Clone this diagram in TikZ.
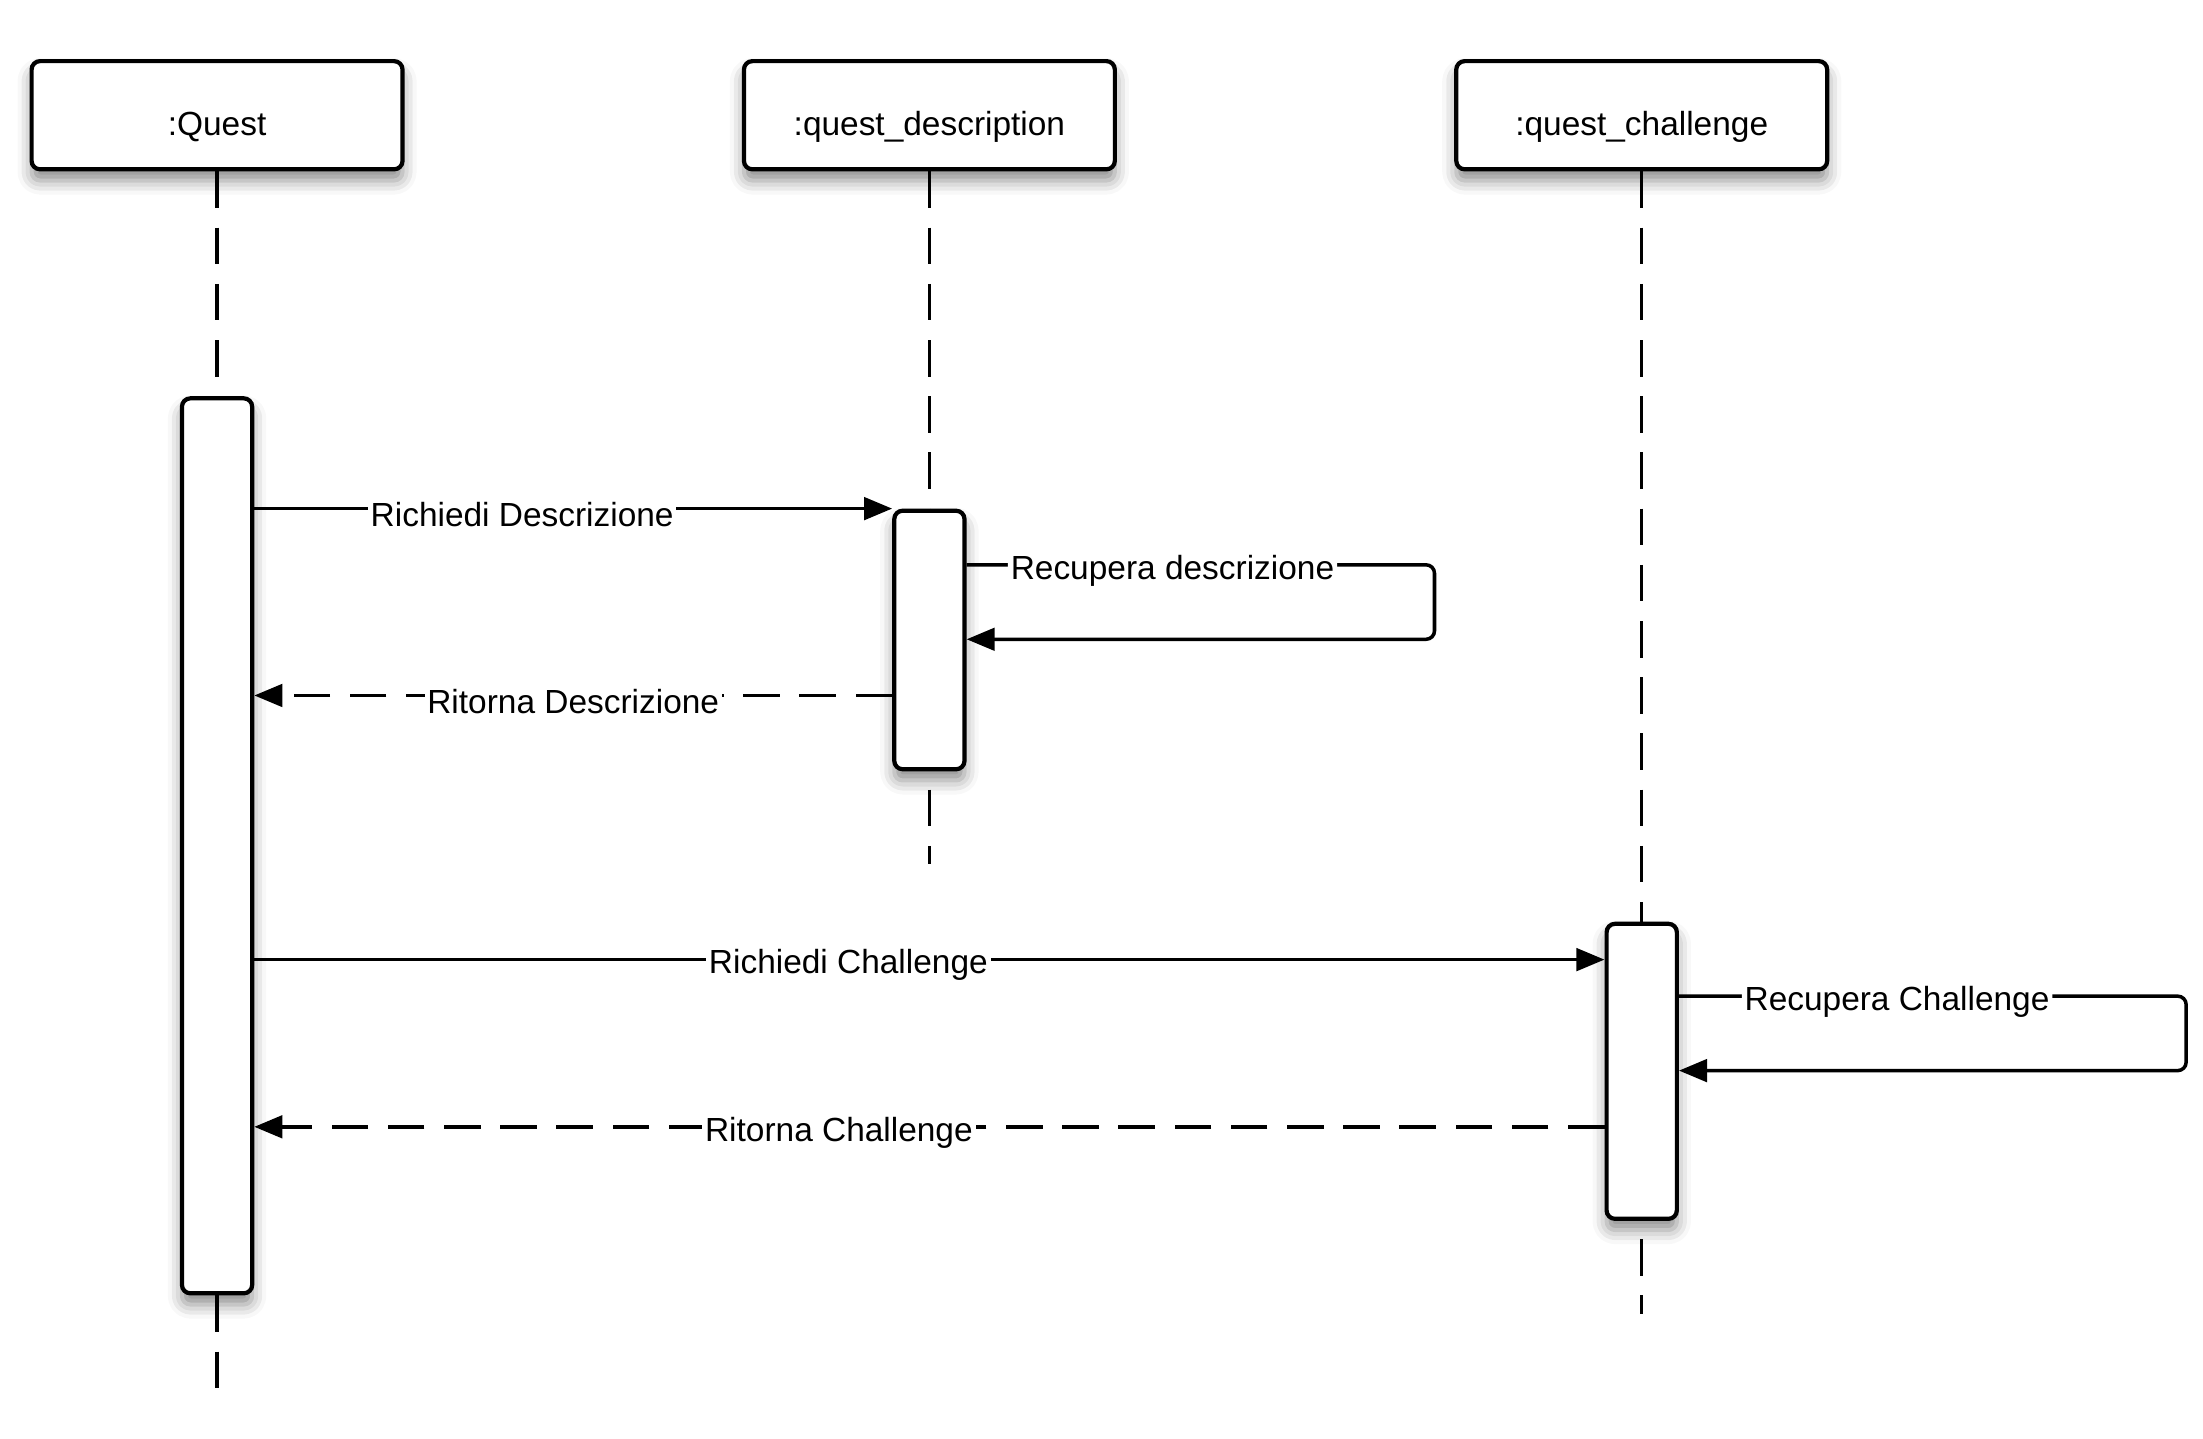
\documentclass[tikz,border=0pt]{standalone}
\usepackage{fontspec}
\setmainfont{Liberation Sans}
\usetikzlibrary{arrows.meta, shadows.blur}

\tikzset{
  head/.style={rectangle, draw, line width=1.5pt, rounded corners=3pt, fill=white,
    minimum width=132pt, minimum height=38.5pt, text height=16pt, text depth=1.6pt,
    blur shadow={shadow xshift=0pt, shadow yshift=-4pt, shadow blur radius=5pt, shadow opacity=45}},
  act/.style={rectangle, draw, line width=1.5pt, rounded corners=3pt, fill=white,
    minimum width=25pt, inner sep=0pt,
    blur shadow={shadow xshift=0pt, shadow yshift=-4pt, shadow blur radius=5pt, shadow opacity=45}},
  lifeline/.style={line width=1.25pt, dash pattern=on 13pt off 7pt},
  msg/.style={line width=1.25pt, -{Triangle[length=10pt, width=8pt]}},
  ret/.style={msg, dash pattern=on 13pt off 7pt},
  lbl/.style={fill=white, inner xsep=1pt, inner ysep=1pt, anchor=center, yshift=-2pt}
}

\begin{document}
\begin{tikzpicture}[x=0.5pt, y=-0.5pt, font=\fontsize{11.9}{14}\selectfont]
\useasboundingbox (0, 0) rectangle (1568, 1024);

\path (154.5, 82) node[head] (quest) {:Quest}
      (661.5, 82) node[head] (desc) {:quest\_description}
      (1168.5, 82) node[head] (chal) {:quest\_challenge};

\coordinate (questend) at (154.5, 990);
\coordinate (descend) at (661.5, 615);
\coordinate (chalend) at (1168.5, 935);

\draw[lifeline] (quest.south) -- (questend);
\draw[lifeline] (desc.south) -- (descend);
\draw[lifeline] (chal.south) -- (chalend);

\path (154.5, 602) node[act, minimum height=318.5pt] (questact) {}
      (661.5, 455.5) node[act, minimum height=92pt] (descact) {}
      (1168.5, 762.5) node[act, minimum height=105pt] (chalact) {};

% descrizione
\draw[msg] (questact.east |- descact.north) to node[lbl, pos=0.42] {Richiedi Descrizione} (descact.north west);
\draw[msg, rounded corners=3pt] (descact.east |- 0, 402) -- node[lbl, pos=0.44] {Recupera descrizione} ++(333, 0) |- (descact.east |- 0, 455);
\draw[ret] (descact.west |- 0, 495) to node[lbl, pos=0.5] {Ritorna Descrizione} (questact.east |- 0, 495);

% challenge
\draw[msg] (questact.east |- 0, 683) to node[lbl, pos=0.44] {Richiedi Challenge} (chalact.west |- 0, 683);
\draw[msg, rounded corners=3pt] (chalact.east |- 0, 709) -- node[lbl, pos=0.43] {Recupera Challenge} ++(361, 0) |- (chalact.east |- 0, 762);
\draw[ret] (chalact.west |- 0, 802) to node[lbl, pos=0.567] {Ritorna Challenge} (questact.east |- 0, 802);

\end{tikzpicture}
\end{document}
